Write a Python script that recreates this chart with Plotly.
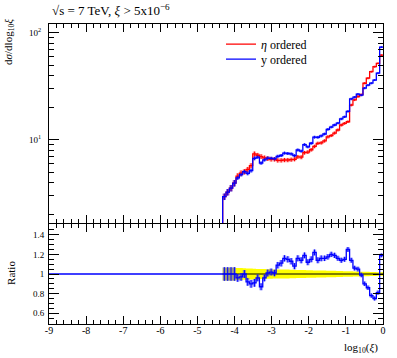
import numpy as np
import plotly.graph_objects as go

# ---------------- data ----------------
# histogram binning in log10(xi): 100 bins from -9 to 0, data only from bin 52 (-4.32) on
hist_lo, hist_hi, n_bins = -9.0, 0.0, 100
first_filled = 52

# d sigma / d log10 xi, eta ordered (red), filled bins only
eta_ordered = [2.95, 3.25, 3.55, 3.95, 4.6, 4.9, 5.05, 5.3, 5.75, 7.4,
               7.2, 7.0, 6.8, 6.7, 6.6, 6.6, 6.45, 6.45, 6.5, 6.5,
               6.55, 6.6, 6.95, 6.9, 7.6, 7.7, 8.1, 8.7, 9.3, 9.4,
               9.8, 10.7, 11.0, 11.6, 12.4, 13.8, 14.3, 14.8, 21.2, 23.7,
               25.5, 26.5, 33.9, 37.8, 43.5, 48.4, 52.0, 62.0]

# ratio y ordered / eta ordered
ratio_y_eta = [1.00, 1.00, 1.00, 1.00, 0.96, 0.97, 1.00, 0.92, 0.90, 0.91,
               0.96, 0.87, 0.96, 1.01, 1.02, 1.01, 1.09, 1.11, 1.16, 1.15,
               1.13, 1.08, 1.16, 1.14, 1.19, 1.12, 1.15, 1.22, 1.14, 1.16,
               1.16, 1.175, 1.20, 1.19, 1.16, 1.14, 1.15, 1.25, 1.14, 1.06,
               1.05, 0.99, 0.90, 0.86, 0.78, 0.75, 0.81, 1.19]

ratio_err = [0.07, 0.07, 0.07, 0.07, 0.04, 0.04, 0.04, 0.04, 0.04, 0.04,
             0.035, 0.035, 0.035, 0.035, 0.035, 0.033, 0.033, 0.033, 0.032, 0.032,
             0.032, 0.031, 0.031, 0.031, 0.03, 0.03, 0.03, 0.03, 0.03, 0.03,
             0.028, 0.028, 0.027, 0.027, 0.026, 0.026, 0.025, 0.025, 0.025, 0.024,
             0.024, 0.023, 0.023, 0.022, 0.022, 0.021, 0.021, 0.02]

eta_rel_err = [0.065, 0.065, 0.065, 0.065, 0.06, 0.06, 0.058, 0.056, 0.055, 0.054,
               0.052, 0.051, 0.05, 0.049, 0.048, 0.047, 0.047, 0.046, 0.045, 0.045,
               0.044, 0.043, 0.042, 0.041, 0.04, 0.039, 0.038, 0.037, 0.036, 0.036,
               0.035, 0.034, 0.033, 0.032, 0.031, 0.03, 0.029, 0.028, 0.027, 0.026,
               0.025, 0.024, 0.023, 0.022, 0.021, 0.02, 0.019, 0.018]

x_tickvals = [-9, -8, -7, -6, -5, -4, -3, -2, -1, 0]
x_ticktext = ["-9", "-8", "-7", "-6", "-5", "-4", "-3", "-2", "-1", "0"]
main_tickvals = [10, 100]
main_ticktext = ["10<sup>1</sup>", "10<sup>2</sup>"]
main_minor = [2, 3, 4, 5, 6, 7, 8, 9, 20, 30, 40, 50, 60, 70, 80, 90]
ratio_tickvals = [0.6, 0.8, 1.0, 1.2, 1.4]
ratio_ticktext = ["0.6", "0.8", "1", "1.2", "1.4"]

# ---------------- derived ----------------
edges = np.round(np.linspace(hist_lo, hist_hi, n_bins + 1), 4)
f_edges = edges[first_filled:]
centers = 0.5 * (f_edges[:-1] + f_edges[1:])
eta = np.array(eta_ordered)
rat = np.array(ratio_y_eta)
yord = eta * rat
eta_err = eta * np.array(eta_rel_err)
yord_err = yord * np.array(ratio_err)
r_err = np.array(ratio_err)
e_rel = np.array(eta_rel_err)

ZERO = 1e-6  # empty bins on a log axis
full_eta = np.full(n_bins, ZERO); full_eta[first_filled:] = eta
full_y = np.full(n_bins, ZERO); full_y[first_filled:] = yord
full_ratio = np.ones(n_bins); full_ratio[first_filled:] = rat


def step(x_edges, vals):
    return list(x_edges), list(vals) + [vals[-1]]


RED = "#ff0000"
BLUE = "#0000ff"
LRED = "rgba(255,60,60,0.45)"
LBLUE = "rgba(60,60,255,0.5)"
FONT = "Liberation Serif"

fig = go.Figure()

# ---- main panel ----
for vals, err, lcol in [(eta, eta_err, LRED), (yord, yord_err, LBLUE)]:
    xs, lo = step(f_edges, vals - err)
    _, hi = step(f_edges, vals + err)
    fig.add_trace(go.Scatter(x=xs, y=lo, mode="lines", line=dict(width=0, shape="hv"),
                             showlegend=False, hoverinfo="skip", xaxis="x", yaxis="y"))
    fig.add_trace(go.Scatter(x=xs, y=hi, mode="lines", line=dict(width=0, shape="hv"),
                             fill="tonexty", fillcolor=lcol, showlegend=False,
                             hoverinfo="skip", xaxis="x", yaxis="y"))

for full, vals, err, col, name, leg in [
    (full_eta, eta, eta_err, RED, "<i>η</i> ordered", "legend"),
    (full_y, yord, yord_err, BLUE, "y ordered", "legend2"),
]:
    xs, ys = step(edges, full)
    fig.add_trace(go.Scatter(x=xs, y=ys, mode="lines", line=dict(color=col, width=1.3, shape="hv"),
                             name=name, legend=leg, xaxis="x", yaxis="y"))
    fig.add_trace(go.Scatter(x=centers, y=vals, mode="markers", marker=dict(size=0.1, color=col),
                             error_y=dict(type="data", array=err, color=col, thickness=1, width=0),
                             showlegend=False, xaxis="x", yaxis="y"))

# ---- ratio panel ----
xs, lo = step(f_edges, 1 - e_rel)
_, hi = step(f_edges, 1 + e_rel)
fig.add_trace(go.Scatter(x=xs, y=lo, mode="lines", line=dict(width=0, shape="hv"),
                         showlegend=False, xaxis="x2", yaxis="y2"))
fig.add_trace(go.Scatter(x=xs, y=hi, mode="lines", line=dict(width=0, shape="hv"),
                         fill="tonexty", fillcolor="#ffff00", showlegend=False, xaxis="x2", yaxis="y2"))
xs, ones = step(f_edges, np.ones(len(eta)))
fig.add_trace(go.Scatter(x=xs, y=ones, mode="lines", line=dict(color="black", width=1.2, shape="hv"),
                         showlegend=False, xaxis="x2", yaxis="y2"))
xs, lo = step(f_edges, rat - r_err)
_, hi = step(f_edges, rat + r_err)
fig.add_trace(go.Scatter(x=xs, y=lo, mode="lines", line=dict(width=0, shape="hv"),
                         showlegend=False, xaxis="x2", yaxis="y2"))
fig.add_trace(go.Scatter(x=xs, y=hi, mode="lines", line=dict(width=0, shape="hv"),
                         fill="tonexty", fillcolor=LBLUE, showlegend=False, xaxis="x2", yaxis="y2"))
xs, ys = step(edges, full_ratio)
fig.add_trace(go.Scatter(x=xs, y=ys, mode="lines", line=dict(color=BLUE, width=1.3, shape="hv"),
                         showlegend=False, xaxis="x2", yaxis="y2"))
fig.add_trace(go.Scatter(x=centers, y=rat, mode="markers", marker=dict(size=0.1, color=BLUE),
                         error_y=dict(type="data", array=r_err, color=BLUE, thickness=1, width=0),
                         showlegend=False, xaxis="x2", yaxis="y2"))

axis_common = dict(showline=True, linecolor="black", linewidth=1, mirror="allticks",
                   ticks="inside", tickcolor="black", showgrid=False, zeroline=False,
                   automargin=False)

fig.update_layout(
    width=397, height=358,
    margin=dict(l=49, r=14, t=24, b=34, autoexpand=False),
    paper_bgcolor="white", plot_bgcolor="white",
    font=dict(family=FONT, size=11, color="black"),
    xaxis=dict(**axis_common, anchor="y", domain=[0, 1], range=[hist_lo, hist_hi],
               tickvals=x_tickvals, ticktext=x_ticktext, showticklabels=False, ticklen=8,
               minor=dict(dtick=0.2, ticklen=4, ticks="inside", tickcolor="black", showgrid=False)),
    yaxis=dict(**axis_common, type="log", domain=[0.3367, 1], range=[0.224, 2.084],
               tickvals=main_tickvals, ticktext=main_ticktext, ticklen=10,
               tickfont=dict(size=9), ticklabelstandoff=5,
               minor=dict(tickvals=main_minor, ticklen=5, ticks="inside", tickcolor="black", showgrid=False)),
    xaxis2=dict(**axis_common, anchor="y2", matches="x", range=[hist_lo, hist_hi],
                tickvals=x_tickvals, ticktext=x_ticktext, ticklen=8, tickfont=dict(size=10),
                ticklabelstandoff=-3,
                minor=dict(dtick=0.2, ticklen=4, ticks="inside", tickcolor="black", showgrid=False)),
    yaxis2=dict(**axis_common, domain=[0, 0.3333], range=[0.49, 1.51],
                tickvals=ratio_tickvals, ticktext=ratio_ticktext, ticklen=10, tickfont=dict(size=9),
                ticklabelstandoff=2,
                minor=dict(dtick=0.05, tick0=0, ticklen=5, ticks="inside", tickcolor="black", showgrid=False)),
    legend=dict(x=0.515, y=0.933, xanchor="left", yanchor="middle", bgcolor="rgba(0,0,0,0)",
                font=dict(size=12)),
    legend2=dict(x=0.515, y=0.883, xanchor="left", yanchor="middle", bgcolor="rgba(0,0,0,0)",
                 font=dict(size=12)),
    annotations=[
        dict(text="√s = 7 TeV, <i>ξ</i> > 5x10<sup>−6</sup>", x=0.003, y=1.047, xref="paper", yref="paper",
             xanchor="left", yanchor="middle", showarrow=False, font=dict(size=13)),
        dict(text="d<i>σ</i>/dlog<sub>10</sub><i>ξ</i>", x=-0.12, y=0.94, xref="paper", yref="paper",
             textangle=-90, xanchor="center", yanchor="middle", showarrow=False, font=dict(size=11)),
        dict(text="Ratio", x=-0.114, y=0.17, xref="paper", yref="paper",
             textangle=-90, xanchor="center", yanchor="middle", showarrow=False, font=dict(size=11)),
        dict(text="log<sub>10</sub>(<i>ξ</i>)", x=0.991, y=-0.08, xref="paper", yref="paper",
             xanchor="right", yanchor="middle", showarrow=False, font=dict(size=11)),
    ],
)

fig.write_html("out.html", config={"displayModeBar": False},
               post_script="document.body.style.margin='0px';")
